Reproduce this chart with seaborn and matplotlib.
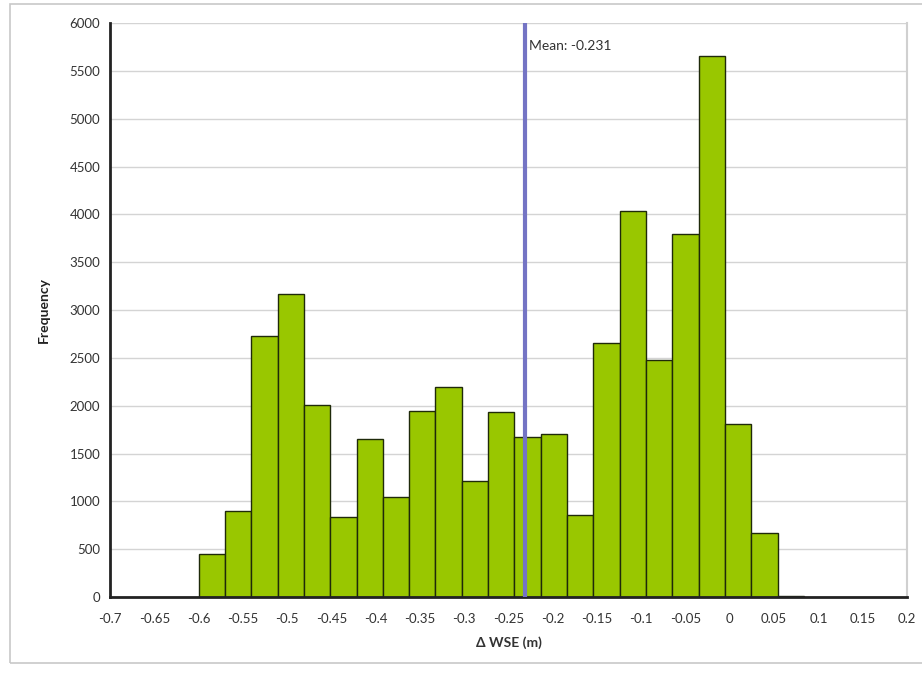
import numpy as np
import pandas as pd
import matplotlib
matplotlib.use("Agg")
import matplotlib.pyplot as plt
import seaborn as sns

# -----------------------------
# Data
# -----------------------------
bin_start = -0.6
bin_width = 0.02973
counts = [450, 900, 2730, 3165, 2010, 840, 1655, 1045, 1940, 2200, 1215,
          1930, 1670, 1700, 860, 2660, 4040, 2475, 3800, 5660, 1810, 670, 15]
mean_value = -0.231
x_ticks = [-0.7, -0.65, -0.6, -0.55, -0.5, -0.45, -0.4, -0.35, -0.3, -0.25,
           -0.2, -0.15, -0.1, -0.05, 0, 0.05, 0.1, 0.15, 0.2]
x_tick_labels = ["-0.7", "-0.65", "-0.6", "-0.55", "-0.5", "-0.45", "-0.4",
                 "-0.35", "-0.3", "-0.25", "-0.2", "-0.15", "-0.1", "-0.05",
                 "0", "0.05", "0.1", "0.15", "0.2"]
y_ticks = list(range(0, 6001, 500))

edges = bin_start + bin_width * np.arange(len(counts) + 1)
df = pd.DataFrame({"dwse": (edges[:-1] + edges[1:]) / 2, "freq": counts})

# -----------------------------
# Plot
# -----------------------------
sns.set_style("white")
plt.rcParams["font.family"] = ["Lato", "DejaVu Sans"]

fig = plt.figure(figsize=(9.22, 6.74), dpi=100)
ax = fig.add_axes([0.1193, 0.1142, 0.8644, 0.8516])

# chart border
fig.patches.append(plt.Rectangle((0.011, 0.016), 0.995, 0.978, transform=fig.transFigure,
                                 fill=False, edgecolor="#c8c8c8", linewidth=1.2))

ax.yaxis.grid(True, color="#d4d4d4", linewidth=1)
ax.set_axisbelow(True)

sns.histplot(data=df, x="dwse", weights="freq", binwidth=bin_width,
             binrange=(edges[0], edges[-1]), ax=ax,
             color="#99c700", alpha=1, edgecolor="#1f2a0a", linewidth=1)

ax.axvline(mean_value, color="#7474c4", linewidth=3, zorder=5)
ax.text(mean_value + 0.004, 5760, f"Mean: {mean_value}", fontsize=10,
        color="#333333", va="center", ha="left", zorder=6)

ax.set_xlim(-0.7, 0.2)
ax.set_ylim(0, 6000)
ax.set_xticks(x_ticks)
ax.set_xticklabels(x_tick_labels)
ax.set_yticks(y_ticks)
ax.tick_params(axis="both", direction="inout", length=7, width=1.5,
               color="#222222", labelsize=9.5, labelcolor="#333333")
ax.tick_params(axis="x", pad=8)

for side in ["left", "bottom"]:
    ax.spines[side].set_color("#222222")
    ax.spines[side].set_linewidth(2)
ax.spines["top"].set_visible(False)
ax.spines["right"].set_color("#d0d0d0")
ax.spines["right"].set_linewidth(1.5)

ax.set_xlabel("Δ WSE (m)", fontsize=10, fontweight="bold", color="#333333", labelpad=8)
ax.set_ylabel("Frequency", fontsize=10, fontweight="bold", color="#222222", labelpad=14)

fig.savefig("out.png", dpi=100)
